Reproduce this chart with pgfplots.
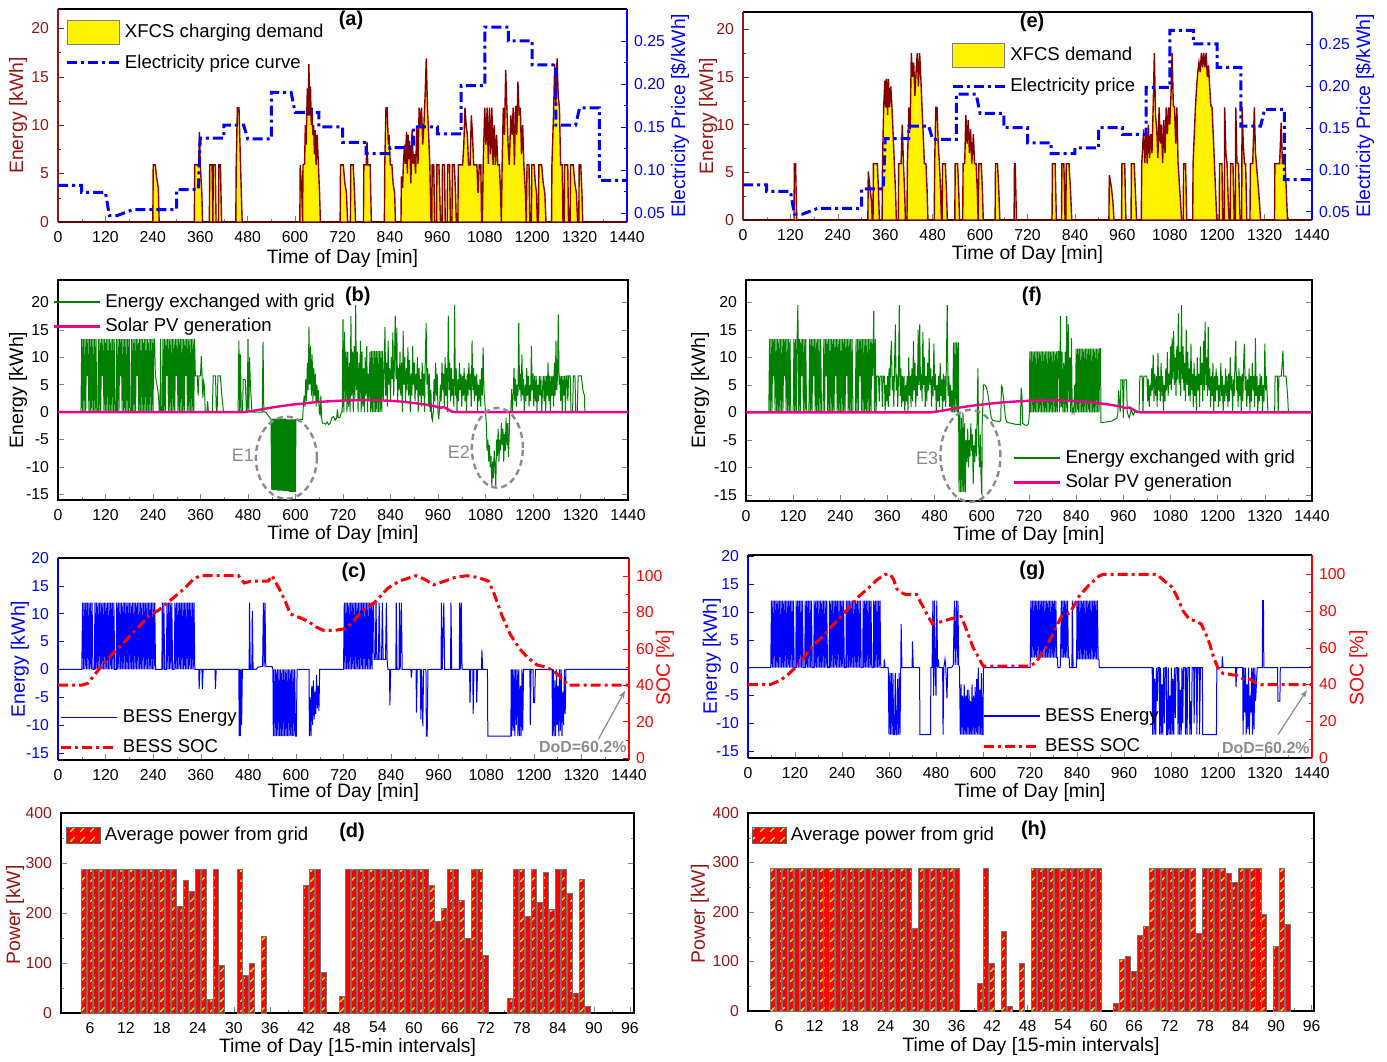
\documentclass[border=0pt]{standalone}
\usepackage{fontspec}
\setmainfont{Liberation Sans}
\setsansfont{Liberation Sans}
\usepackage{pgfplots}
\pgfplotsset{compat=1.18}
\usetikzlibrary{patterns,arrows.meta}
\pgfdeclarepatternformonly{dashdiag}{\pgfpointorigin}{\pgfpoint{5pt}{5pt}}{\pgfpoint{5pt}{5pt}}{
  \pgfsetlinewidth{0.6pt}
  \pgfpathmoveto{\pgfpoint{0pt}{0pt}}
  \pgfpathlineto{\pgfpoint{2.6pt}{2.6pt}}
  \pgfusepath{stroke}
}
\definecolor{dred}{RGB}{155,20,20}
\definecolor{dline}{RGB}{135,0,0}
\definecolor{gline}{RGB}{0,128,0}
\definecolor{ann}{RGB}{140,140,140}
\definecolor{pblue}{RGB}{0,0,255}
\pgfplotsset{
  /pgf/number format/assume math mode=true,
  /pgf/number format/1000 sep={},
  base/.style={
    scale only axis, anchor=south west, clip=false,
    tick align=inside, major tick length=3pt, minor tick length=1.6pt,
    tick label style={font=\fontsize{7.9}{9}\selectfont},
    label style={font=\fontsize{9.7}{11}\selectfont},
    axis line style={line width=0.6pt},
    legend style={draw=none, fill=none, inner sep=0pt, outer sep=0pt, row sep=0pt,
      font=\fontsize{9.3}{11}\selectfont, anchor=north west},
    legend cell align=left,
    xticklabel style={yshift=-1pt},
  },
  timex/.style={xmin=0, xmax=1440, xtick={0,120,...,1440}, minor x tick num=1,
    xlabel={Time of Day [min]}},
  boxlegend/.style={legend image code/.code={\draw[##1] (0pt,-6pt) rectangle (26pt,6pt);}},
  linelegend/.style={legend image code/.code={\draw[##1] (0pt,0pt) -- (#1,0pt);}},
  hatchbox/.style={legend image code/.code={\draw[draw=black!60, fill=red, line width=0.4pt,
     postaction={pattern=dashdiag, pattern color=yellow}]
     (0pt,-4pt) rectangle (17pt,4pt);}},
  pricestyle/.style={pblue, line width=1.5pt, dash pattern=on 5pt off 2pt on 1.5pt off 2pt},
  socstyle/.style={red, line width=1.5pt, dash pattern=on 5pt off 2pt on 1.5pt off 2pt},
  barstyle/.style={ybar, bar width=0.85, fill=red, draw=black!55, line width=0.4pt,
     postaction={pattern=dashdiag, pattern color=yellow}},
}
\begin{document}
\begin{tikzpicture}
\useasboundingbox (0pt,-530.5pt) rectangle (693.5pt,0pt);

% ================= (a) =================
\begin{axis}[base, timex, at={(29pt,-111pt)}, width=284.5pt, height=106.5pt,
  ymin=0, ymax=22, ytick={0,5,10,15,20}, minor y tick num=1,
  separate axis lines, y axis line style={dred}, ytick style={dred}, yticklabel style={dred, xshift=-1pt},
  xtick pos=bottom, ytick pos=left,
  ylabel={Energy [kWh]}, ylabel style={dred, at={(axis description cs:-0.070,0.5)}, anchor=center},
  xlabel style={at={(axis description cs:0.5,-0.169)}, anchor=center}]
\addplot[draw=dline, fill=yellow, line width=0.7pt] coordinates {
(0,0)(240,0)(241,5.9)(246,5.9)(250,4.5)(254,3.5)(256,0)(345,0)(346,5.9)(352,5.9)(356,5.9)(358,9.3)(360,5.9)(364,3)(366,0)(383,0)(384,5.9)(390,5.9)(392,0)(393,5.9)(398,5.9)(400,0)(406,0)(407,5.9)(411,5.9)(414,0)(450,0)(451,5.9)(454,11.8)(458,11.8)(462,5.9)(466,0)
(612,0)(613,5.9)(617,3)(619,0)(620,5.9)(624,6)(626,10)(628,8)(631,13.8)(633,11)(635,16.3)(637,11)(639,14)(641,10)(643,11.8)(645,9)(647,10)(649,7)(651,9.5)(653,5.9)(656,9)(659,5.9)(662,3)(664,0)
(714,0)(715,5.9)(722,5.9)(726,4)(730,3)(733,0)(740,0)(741,5.9)(747,5.9)(750,3.5)(753,0)(773,0)(774,5.9)(780,5.9)(782,8.3)(784,5.9)(790,5.9)(793,0)
(826,0)(827,5.9)(830,11.8)(833,11.8)(836,8)(838,9)(841,5.9)(845,5.9)(848,4)(852,3)(854,0)
(868,0)(869,4.7)(872,3.5)(874,5.9)(877,8)(879,6)(882,9.3)(884,5)(886,9)(888,6.5)(890,8.4)(893,4)(896,9.5)(899,6)(902,7)(905,5)(908,9.7)(911,6)(914,11.8)(917,10)(920,11.8)(923,8)(926,10)(929,13)(932,16.9)(935,11.8)(938,9)(941,5.9)(944,0)
(946,0)(947,5.9)(951,5.9)(953,0)(958,0)(959,5.9)(964,5.9)(966,3)(968,0)(972,0)(973,5.9)(978,5.9)(980,0)(985,0)(986,5.9)(991,5.9)(993,0)(997,0)(998,5.9)(1003,5.9)(1006,3)(1008,0)
(1012,0)(1013,5.9)(1020,5.9)(1024,5.9)(1027,8)(1030,11.8)(1033,10)(1036,9)(1039,5.9)(1043,5.9)(1046,11)(1049,9)(1052,5.9)(1056,5.9)(1060,5.9)(1063,3)(1066,5.9)(1070,5.9)(1072,0)
(1074,0)(1076,5.9)(1080,11.8)(1083,8)(1086,11.8)(1089,6)(1092,11.8)(1095,7)(1098,11.8)(1101,5.9)(1104,10)(1107,5.9)(1110,9)(1113,5.9)(1117,5.9)(1120,3)(1122,0)(1124,5.9)(1127,11.8)(1130,9)(1133,15.7)(1136,11.8)(1139,8)(1142,5.9)(1146,11)(1149,9)(1152,11.8)(1155,5.9)(1158,12)(1161,9)(1164,14.5)(1167,11)(1170,11.8)(1173,7)(1176,10)(1179,5.9)(1183,3)(1185,0)(1187,5.9)(1192,5.9)(1194,0)
(1198,0)(1199,5.9)(1205,5.9)(1208,4)(1211,3)(1213,0)(1216,0)(1217,5.9)(1224,5.9)(1228,4)(1232,3)(1235,0)
(1249,0)(1250,5.9)(1254,11)(1257,16.3)(1260,12)(1263,16.9)(1266,13)(1269,11.8)(1272,5.9)(1276,5.9)(1278,0)
(1281,0)(1282,5.9)(1290,5.9)(1292,0)(1296,0)(1297,5.9)(1304,5.9)(1308,4)(1312,3)(1315,0)(1318,0)(1319,5.9)(1323,5.9)(1326,3)(1328,0)(1440,0)
} \closedcycle;
\end{axis}
\begin{axis}[base, at={(29pt,-111pt)}, width=284.5pt, height=106.5pt, xmin=0, xmax=1440,
  axis x line=none, axis y line*=right,
  ymin=0.0395, ymax=0.287, ytick={0.05,0.10,0.15,0.20,0.25}, minor y tick num=1,
  y axis line style={pblue}, ytick style={pblue},
  yticklabel style={pblue, /pgf/number format/.cd, fixed, fixed zerofill, precision=2},
  ylabel={Electricity Price [\$/kWh]}, ylabel style={pblue, at={(axis description cs:1.093,0.5)}, anchor=center},
  legend style={at={(axis description cs:0.014,0.95)}, anchor=north west, row sep=3pt}]
\addlegendimage{boxlegend, draw=gray, fill=yellow, line width=0.5pt}
\addlegendentry{XFCS charging demand}
\addplot[pricestyle, linelegend=26pt] coordinates {
(0,0.082)(60,0.082)(60,0.074)(120,0.074)(130,0.047)(150,0.047)(190,0.054)(300,0.054)(300,0.077)(355,0.077)(360,0.137)(420,0.137)(420,0.152)(470,0.152)(480,0.136)(540,0.136)(540,0.19)(590,0.19)(600,0.167)(660,0.167)(660,0.15)(720,0.15)(720,0.132)(780,0.132)(780,0.119)(840,0.119)(840,0.126)(900,0.126)(900,0.15)(960,0.15)(960,0.142)(1020,0.142)(1020,0.198)(1080,0.198)(1080,0.266)(1140,0.266)(1140,0.25)(1200,0.25)(1200,0.222)(1260,0.222)(1260,0.152)(1310,0.152)(1320,0.172)(1370,0.172)(1370,0.088)(1440,0.088)};
\addlegendentry{Electricity price curve}
\node[font=\bfseries\fontsize{10}{12}\selectfont] at (axis description cs:0.515,0.948) {(a)};
\end{axis}

% ================= (e) =================
\begin{axis}[base, timex, at={(371.5pt,-110pt)}, width=284.5pt, height=104pt,
  ymin=0, ymax=21.8, ytick={0,5,10,15,20}, minor y tick num=1,
  separate axis lines, y axis line style={dred}, ytick style={dred}, yticklabel style={dred, xshift=-1pt},
  xtick pos=bottom, ytick pos=left,
  ylabel={Energy [kWh]}, ylabel style={dred, at={(axis description cs:-0.0615,0.5)}, anchor=center},
  xlabel style={at={(axis description cs:0.5,-0.168)}, anchor=center}]
\addplot[draw=dline, fill=yellow, line width=0.7pt] coordinates {
(0,0)(129,0)(130,5.9)(133,5.9)(136,0)(316,0)(317,5.1)(321,3.5)(325,2)(327,0)(329,0)(330,5.9)(340,5.9)(343,3)(345,0)
(352,0)(353,5.9)(356,11.8)(359,14.6)(361,11.8)(363,14.8)(366,11)(368,14.8)(371,11.8)(374,14)(377,11.8)(380,9)(383,5.9)(386,3)(388,0)
(393,0)(394,5.9)(400,5.9)(403,10)(406,5.9)(409,3)(411,0)
(415,0)(416,5.9)(420,11.8)(423,9.5)(426,17.5)(429,15)(432,16.5)(435,13)(438,15.5)(441,17.5)(444,14)(447,17.5)(450,15)(453,11.8)(456,9)(459,5.9)(463,5.9)(466,3)(468,0)
(484,0)(485,5.9)(488,11.8)(491,11.8)(494,8)(497,5.9)(500,3)(502,0)(504,0)(505,5.9)(512,5.9)(515,3)(517,0)
(536,0)(537,5.9)(543,5.9)(546,3)(548,0)
(556,0)(557,5.9)(561,5.9)(564,11)(567,8)(570,10.5)(573,7)(576,9.5)(579,5.9)(583,9)(586,5.9)(590,5.9)(593,3)(595,0)(597,5.9)(603,5.9)(606,3)(608,0)
(638,0)(639,5.9)(644,5.9)(647,3.5)(650,0)(686,0)(687,5.9)(689,5.9)(692,0)
(782,0)(783,5.9)(790,5.9)(793,0)(806,0)(807,5.9)(812,5.9)(815,0)(817,0)(818,5.9)(825,5.9)(829,3)(832,0)
(926,0)(927,4.7)(932,3.5)(936,2)(939,0)(958,0)(959,5.9)(966,5.9)(969,0)(982,0)(983,5.9)(990,5.9)(993,3)(996,0)
(1008,0)(1009,5.9)(1014,9.5)(1017,6)(1020,9.5)(1023,5.9)(1026,10)(1029,6.5)(1032,9)(1035,7)(1038,11.8)(1041,17.5)(1044,11)(1047,9.5)(1050,6.5)(1053,11.8)(1056,8)(1059,10)(1062,6)(1065,10.5)(1068,7)(1071,11.8)(1074,9)(1077,11.8)(1080,10)(1083,13)(1086,17.5)(1089,12)(1092,11.8)(1095,8)(1098,11.8)(1101,6)(1104,4)(1107,2)(1110,0)
(1114,0)(1115,5.9)(1120,5.9)(1123,0)
(1138,0)(1139,5.9)(1142,9)(1145,11.8)(1148,14)(1151,15.5)(1154,16.5)(1157,15.5)(1160,17.5)(1163,16)(1166,17.5)(1169,16)(1172,17.5)(1175,15)(1178,16.2)(1181,14)(1184,12)(1187,11.8)(1190,9)(1193,6)(1196,3)(1199,0)
(1205,0)(1206,5.9)(1212,5.9)(1214,0)(1218,0)(1219,11.8)(1222,7)(1225,5.9)(1228,2)(1230,0)(1233,0)(1234,5.9)(1240,5.9)(1243,0)(1246,0)(1247,11.8)(1250,6)(1254,5.9)(1258,0)(1262,0)(1263,11.8)(1266,8)(1269,5.9)(1272,5.9)(1275,0)
(1283,0)(1284,5.9)(1290,5.9)(1294,11.8)(1297,7)(1301,5)(1305,3)(1310,0)
(1345,0)(1346,5.9)(1358,5.9)(1362,10.2)(1365,5.9)(1372,5.9)(1375,3)(1378,0)(1440,0)
} \closedcycle;
\end{axis}
\begin{axis}[base, at={(371.5pt,-110pt)}, width=284.5pt, height=104pt, xmin=0, xmax=1440,
  axis x line=none, axis y line*=right,
  ymin=0.040, ymax=0.288, ytick={0.05,0.10,0.15,0.20,0.25}, minor y tick num=1,
  y axis line style={pblue}, ytick style={pblue},
  yticklabel style={pblue, /pgf/number format/.cd, fixed, fixed zerofill, precision=2},
  ylabel={Electricity Price [\$/kWh]}, ylabel style={pblue, at={(axis description cs:1.093,0.5)}, anchor=center},
  legend style={at={(axis description cs:0.366,0.85)}, anchor=north west, row sep=3pt}]
\addlegendimage{boxlegend, draw=gray, fill=yellow, line width=0.5pt}
\addlegendentry{XFCS demand}
\addplot[pricestyle, linelegend=26pt] coordinates {
(0,0.082)(60,0.082)(60,0.074)(120,0.074)(130,0.047)(150,0.047)(190,0.054)(300,0.054)(300,0.077)(355,0.077)(360,0.137)(420,0.137)(420,0.152)(470,0.152)(480,0.136)(540,0.136)(540,0.19)(590,0.19)(600,0.167)(660,0.167)(660,0.15)(720,0.15)(720,0.132)(780,0.132)(780,0.119)(840,0.119)(840,0.126)(900,0.126)(900,0.15)(960,0.15)(960,0.142)(1020,0.142)(1020,0.198)(1080,0.198)(1080,0.266)(1140,0.266)(1140,0.25)(1200,0.25)(1200,0.222)(1260,0.222)(1260,0.152)(1310,0.152)(1320,0.172)(1370,0.172)(1370,0.088)(1440,0.088)};
\addlegendentry{Electricity price}
\node[font=\bfseries\fontsize{10}{12}\selectfont] at (axis description cs:0.508,0.952) {(e)};
\end{axis}

% ================= (b) =================
\begin{axis}[base, timex, at={(29pt,-250pt)}, width=285pt, height=110pt,
  ymin=-16, ymax=24.05, ytick={-15,-10,...,20}, xtick pos=bottom, ytick pos=both,
  yticklabel style={xshift=-1pt},
  ylabel={Energy [kWh]}, ylabel style={at={(axis description cs:-0.070,0.5)}, anchor=center},
  xlabel style={at={(axis description cs:0.5,-0.155)}, anchor=center},
  legend style={at={(axis description cs:-0.009,0.955)}, anchor=north west}]
\addplot[gline, line width=0.5pt, linelegend=23pt, legend image post style={line width=1.1pt}] coordinates {
(0,0)(58,0)
(60,13.3)(62,0)(64,13.3)(66,0)(68,13.3)(70,0)(72,13.3)(74,6.6)(76,13.3)(78,0)(80,13.3)(82,0)(84,13.3)(86,0)(88,13.3)(90,0)(92,13.3)(94,0)(96,13.3)(98,0)(101,0)(102,13.3)(104,0)(106,13.3)(108,0)(110,13.3)(112,6.6)(114,13.3)(116,0)(118,13.3)(120,0)(122,13.3)(124,0)(126,13.3)(128,0)(130,13.3)(132,0)(134,13.3)(136,0)(138,13.3)(140,0)(142,13.3)(144,0)(147,0)(148,13.3)(150,0)(152,13.3)(154,0)(156,13.3)(158,6.6)(160,13.3)(162,0)(164,13.3)(166,0)(168,13.3)(170,0)(172,13.3)(174,0)(176,13.3)(178,0)(180,13.3)(182,0)(185,0)(186,13.3)(188,0)(190,13.3)(192,0)(194,13.3)(196,0)(198,13.3)(200,6.6)(202,13.3)(204,0)(206,13.3)(208,0)(210,13.3)(212,0)(214,13.3)(216,0)(218,13.3)(220,0)(222,13.3)(224,0)(226,13.3)(228,0)(230,13.3)(232,0)(234,13.3)(236,0)(238,13.3)(240,0)(242,13.3)(244,13.3)(246,6.6)(250,5)(254,3)(256,0)
(258,0)(259,13.3)(261,0)(264,0)(265,13.3)(267,0)(269,13.3)(271,0)(273,13.3)(275,6.6)(277,13.3)(279,0)(281,13.3)(283,0)(285,13.3)(287,0)(289,13.3)(291,0)(293,13.3)(295,0)(297,13.3)(299,6.6)(301,13.3)(303,0)(305,13.3)(307,0)(309,13.3)(311,0)(313,13.3)(315,0)(317,13.3)(319,0)(321,13.3)(323,6.6)(325,13.3)(327,0)(329,13.3)(331,0)(333,13.3)(335,0)(337,13.3)(339,0)(341,13.3)(343,0)(345,13.3)
(347,6.6)(352,6.6)(354,3)(356,6.6)(360,6.6)(362,10.2)(364,6.6)(366,2.6)(368,5.5)(370,4.6)(372,0)(376,0)(378,2)(380,0)(390,0)(392,6.6)(398,6.6)(400,0)(402,0)(404,6.6)(410,6.6)(414,3)(418,0)
(455,0)(457,13)(459,0)(461,10.5)(463,0)(466,0)(468,5.9)(473,5.9)(476,0)(478,0)(480,13.3)(482,0)(484,10)(486,5)(490,0)(516,0)(518,12.8)(520,0)
(525,0)(535,-1)(538,-1.2)(540,-14.1)(541.5,-1.2)(543,-14.2)(544.5,-1.2)(546,-14.2)(547.5,-1.2)(549,-14.2)(550.5,-1.2)(552,-14.2)(553.5,-1.2)(555,-14.3)(556.5,-1.2)(558,-14.3)(559.5,-1.2)(561,-14.3)(562.5,-1.2)(564,-14.3)(565.5,-1.2)(567,-14.3)(568.5,-1.2)(570,-14.4)(571.5,-1.2)(573,-14.4)(574.5,-1.2)(576,-14.4)(577.5,-1.3)(579,-14.4)(580.5,-1.3)(582,-14.4)(583.5,-1.3)(585,-14.5)(586.5,-1.3)(588,-14.5)(589.5,-1.3)(591,-14.5)(592.5,-1.3)(594,-14.5)(595.5,-1.3)(597,-14.5)(598.5,-1.3)(600,-14.5)(601,-1.3)(618,-1.3)(620,1.5)
(622,3)(624,1)(626,6)(628,2)(630,9)(632,4)(634,15.5)(636,5)(638,12)(640,3)(642,10.5)(644,2)(646,8)(648,3)(650,7)(652,1)(654,5)(656,2)(658,4)(660,0)(662,-0.5)(664,3)(666,-1)(668,-2)
(672,-2)(676,-2.2)(680,-1.8)(684,-2.3)(688,-2)(692,-1)(696,-0.8)(700,-1.5)(704,-1)(706,0.5)(708,-1)(712,-1)(716,0)
(718,0)(720,16.9)(722,0)(724,14.6)(726,2)(728,11)(730,0)(732,11)(734,1)(736,9)(738,0)(740,17.5)(742,3)(744,11)(746,0)(748,12)(750,2)(752,19.5)(754,4)(756,11)(758,0)(760,9)(762,2)(764,13)(766,0)(768,11)(770,1)(772,8)(774,0)(776,10)(778,3)(780,12)(782,0)(784,7)(786,2)(788,11)(790,0)(792,11.1)(794,0)(796,11.1)(798,0)(800,11.1)(802,0)(804,11.1)(806,0)(808,11.1)(810,0)(812,11.1)(814,0)(816,11.1)(818,0)(820,11.1)(822,2)(824,7)(826,15.5)(828,3)(830,9)(832,1)(834,13)(836,5)(838,8)(840,2)(842,10)(844,6)(846,14.5)(848,3)(850,9)(852,17.5)(854,6)(856,15.4)(858,2)(860,8)(862,4)(864,11)(866,3)(868,9)(870,0)(872,14.8)(874,5)(876,10)(878,2)(880,8)(882,4)(884,11.8)(886,3)(888,9.5)(890,0)(892,7)(894,3)(896,12)(898,5)(900,9)
(902,2)(904,7)(906,4)(908,10)(910,0)(912,8)(914,3)(916,6)(918,1)(920,9)(922,3)(924,7)(926,0)(928,10)(930,16.2)(932,5)(934,8)(936,1)(938,7)(940,0)(942,4)(944,-1)(946,-1.5)(948,0)(950,6)(952,2)(954,9)(956,3)(958,7)(960,0)(962,-1.3)(964,1)(966,5)(968,2)(970,9)(972,4)(974,7)(976,1)(978,10)(980,3)(982,8)(984,0)(986,17.5)(988,4)(990,9)(992,2)(994,8)(996,3)(998,6)(1000,1)(1002,19.5)(1004,3)(1006,8)(1008,0)
(1010,6)(1012,2)(1014,9)(1016,4)(1018,7)(1020,1)(1022,6.6)(1024,3)(1026,8)(1028,2)(1030,6)(1032,0)(1034,7)(1036,3)(1038,9)(1040,4)(1042,7)(1044,1)(1046,13)(1048,4)(1050,8)(1052,2)(1054,6.6)(1056,3)(1058,7)(1060,0)(1062,5)(1064,2)(1066,6)(1068,1)(1070,8)(1072,3)(1074,11.8)(1076,4)(1078,2)(1080,0)
(1082,-2)(1084,-7)(1086,-5)(1088,-9)(1090,-6)(1092,-10)(1094,-8)(1096,-13.5)(1098,-9)(1100,-12)(1102,-7)(1104,-10)(1106,-13.5)(1108,-5)(1110,-8)(1112,-3)(1114,-9)(1116,-5)(1118,-7)(1120,-2)(1122,-6)(1124,-3)(1126,-9)(1128,-4)(1130,-7)(1132,-1)(1134,-6)(1136,-2)(1138,-8.2)(1140,-4)(1141,0)
(1144,0)(1146,4.2)(1148,0)(1150,3)(1152,8)(1154,2)(1156,6)(1158,1)(1160,5)(1162,3)(1164,16.2)(1166,4)(1168,7)(1170,2)(1172,10.5)(1174,3)(1176,6)(1178,0)(1180,5)(1182,2)(1184,8)(1186,3)(1188,6.6)(1190,1)(1192,5)(1194,2)(1196,12)(1198,4)(1200,7)(1202,1)
(1204,6.6)(1206,2)(1208,6.6)(1210,0)(1212,5)(1214,2)(1216,6.6)(1218,3)(1220,6.6)(1222,0)(1224,4)(1226,6.6)(1228,2)(1230,6.6)(1232,0)(1234,6.6)(1236,3)(1238,9)(1240,2)(1242,6.6)(1244,0)(1246,6.6)(1248,3)(1250,6.6)(1252,1)(1254,9)(1256,3)(1258,13)(1260,4)(1262,6.6)(1264,17.8)(1266,5)(1268,6.6)(1270,2)(1272,6.6)(1274,0)(1276,6.6)(1278,3)(1280,6.6)(1282,0)(1284,6.6)(1286,6.6)(1288,2)(1290,6.6)(1294,6.6)(1296,0)(1300,0)(1302,6.6)(1306,6.6)(1308,0)(1312,0)(1314,6.6)(1322,6.6)(1326,4)(1330,3)(1331,0)(1440,0)};
\addlegendentry{Energy exchanged with grid}
\addplot[magenta, line width=1.2pt, linelegend=23pt] coordinates {
(0,0)(470,0)(490,0.2)(510,0.45)(530,0.7)(550,0.95)(570,1.15)(590,1.35)(610,1.5)(630,1.65)(650,1.8)(670,1.9)(690,2.0)(720,2.1)(750,2.15)(780,2.2)(810,2.15)(840,2.05)(870,1.9)(900,1.65)(930,1.35)(950,1.1)(965,0.8)(975,0.9)(985,0.5)(995,0.1)(1005,0)(1440,0)};
\addlegendentry{Solar PV generation}
\draw[ann, line width=1.2pt, dash pattern=on 3pt off 2pt] (axis cs:577,-8.3) ellipse [x radius=15.25pt, y radius=20.5pt];
\draw[ann, line width=1.2pt, dash pattern=on 3pt off 2pt] (axis cs:1110,-6.5) ellipse [x radius=12.75pt, y radius=20pt];
\node[ann, font=\fontsize{9}{10}\selectfont] at (axis cs:467,-7.8) {E1};
\node[ann, font=\fontsize{9}{10}\selectfont] at (axis cs:1013,-7.3) {E2};
\node[font=\bfseries\fontsize{10}{12}\selectfont] at (axis description cs:0.526,0.927) {(b)};
\end{axis}

% ================= (f) =================
\begin{axis}[base, timex, at={(373pt,-250.5pt)}, width=283pt, height=110.5pt,
  ymin=-16.1, ymax=24.05, ytick={-15,-10,...,20}, xtick pos=bottom, ytick pos=both,
  yticklabel style={xshift=-1pt},
  ylabel={Energy [kWh]}, ylabel style={at={(axis description cs:-0.081,0.5)}, anchor=center},
  xlabel style={at={(axis description cs:0.5,-0.158)}, anchor=center},
  legend style={at={(axis description cs:0.472,0.25)}, anchor=north west}]
\addplot[gline, line width=0.5pt, linelegend=23pt, legend image post style={line width=1.1pt}] coordinates {
(0,0)(58,0)
(60,13.3)(62,0)(64,13.3)(66,0)(68,13.3)(70,6.6)(72,13.3)(74,0)(76,13.3)(78,0)(80,13.3)(82,0)(84,13.3)(86,0)(88,13.3)(90,0)(92,13.3)(94,0)(96,13.3)(98,6.6)(100,13.3)(102,0)(104,13.3)(106,0)(108,13.3)(110,0)(112,13.3)(114,0)(120,0)(122,13.3)(124,0)(126,13.3)(128,0)(130,13.3)(132,19.5)(134,0)(136,13.3)(138,0)(140,13.3)(142,6.6)(144,13.3)(146,0)(148,13.3)(150,0)(152,13.3)(154,0)(160,0)(162,13.3)(164,0)(166,13.3)(168,0)(170,13.3)(172,6.6)(174,13.3)(176,0)(178,13.3)(180,0)(182,13.3)(184,0)(186,13.3)(188,0)(190,13.3)(192,0)(196,0)(198,13.3)(200,0)(202,13.3)(204,6.6)(206,13.3)(208,0)(210,13.3)(212,0)(214,13.3)(216,0)(218,13.3)(220,0)(222,13.3)(224,0)(226,13.3)(228,6.6)(230,13.3)(232,0)(234,13.3)(236,0)(238,13.3)(240,0)(242,13.3)(244,0)(246,13.3)(248,0)(250,13.3)(252,0)(254,13.3)(256,6.6)(258,13.3)(260,0)(262,13.3)(264,0)(266,13.3)(268,0)(270,13.3)(272,0)(278,0)(280,13.3)(282,0)(284,13.3)(286,0)(288,13.3)(290,6.6)(292,13.3)(294,0)(296,13.3)(298,0)(300,13.3)(302,0)(304,13.3)(306,0)(308,13.3)(310,0)(312,13.3)(314,0)(316,13.3)(318,0)(320,13.3)(322,6.6)(324,13.3)(325,18.4)(327,0)(329,13.3)(331,0)
(333,6.6)(337,6.6)(339,2)(341,6.6)(345,6.6)(347,1)(349,6.6)(352,6.6)(354,0)(356,5)(358,2)(360,6.6)(362,1)(364,8)(366,3)(368,10)(370,13)(372,4)(374,6.6)(376,1)(378,9)(380,16)(382,4)(384,7)(386,1)(388,6.6)(390,19.5)(392,3)(394,8)(396,1)(398,6.6)(400,2)(402,6.6)(404,0)(406,5)(408,2)(410,6.6)(412,0)(414,10)(416,3)(418,6.6)(420,1)(422,8)(424,2)(426,13)(428,4)(430,9)(432,1)(434,6.6)(436,3)(438,15)(440,5)(442,16)(444,4)(446,7)(448,2)(450,14.6)(452,5)(454,10)
(456,1)(458,6.6)(460,2)(462,9)(464,4)(466,13.5)(468,5)(470,8)(472,1)(474,6.6)(476,3)(478,12.5)(480,4)(482,7)(484,0)(486,5)(488,2)(490,6.6)(492,1)(494,9)(496,3)(498,6)(500,0)(502,7)(504,2)(506,6.6)(508,1)(510,10)(512,19.5)(514,3)(516,6.6)(518,1)(520,5)(522,0)(524,4)(526,0)(528,12.7)(530,0)(532,12.7)(534,0)(536,12.7)(538,0)(540,12.7)(541,0)
(542,-14.5)(544,0)(546,-14.5)(548,-1)(550,-14.5)(552,0)(554,-14.5)(556,-2)(558,-14.5)(560,-5)(562,-9)(564,-3)(566,-10)(568,-5)(570,-8)(572,-2)(574,-7)(576,-4)(578,-13)(580,-6)(582,-9)(584,-3)(586,-8)(588,-1)(590,8)(592,-6)(594,-10)(596,-4)(598,-12)(600,-15)(601,-2)(602,0)
(604,5)(608,5)(612,4.5)(616,3)(620,1)(624,-1)(628,-1.5)(632,-1.5)(636,-1.6)(640,-1.6)(644,-1.7)(648,-1.5)(650,4.8)(652,4.5)(656,2)(660,-1)(664,-1.8)(670,-1.9)(676,-2)(682,-2.1)(688,-2.2)(694,-2.2)(698,-2.3)(700,4.5)(702,3)(704,-2)(710,-2.3)(716,-2.3)(719,-2)(721,0)
(722,11.1)(724,0)(726,11.1)(728,0)(730,11.1)(732,0)(734,11.1)(736,0)(738,11.1)(740,0)(742,11.1)(744,0)(746,11.1)(748,0)(750,11.1)(752,0)(754,11.1)(756,0)(758,11.1)(760,0)(762,11.1)(764,0)(766,11.1)(768,0)(770,11.1)(772,0)(774,11.1)(776,0)(778,11.1)(780,0)(782,11.1)(784,0)(786,11.1)(788,0)(790,11.1)(792,0)(794,11.1)
(796,11.1)(798,0)(800,17.5)(802,1)(804,11)(806,0)(808,9)(810,0)(812,11)(814,0)(816,17.5)(818,0)(820,16)(822,2)(824,10)(826,0)(828,13.5)(830,0)(832,0.5)(834,0)(836,5)(838,0)
(840,11.6)(842,0)(844,11.6)(846,0)(848,11.6)(850,0)(852,11.6)(854,0)(856,11.6)(858,0)(860,11.6)(862,0)(864,11.6)(866,0)(868,11.6)(870,0)(872,11.6)(874,0)(876,11.6)(878,0)(880,11.6)(882,0)(884,11.6)(886,0)(888,11.6)(890,0)(892,11.6)(894,0)(896,11.6)(898,0)(900,11.6)(902,11.6)(903,-1.8)
(910,-1.8)(920,-1.7)(930,-1.6)(940,-1.2)(944,-1)(946,0)(948,4)(950,2)(952,0)(954,5.9)(958,5.9)(960,-1)(962,5.9)(968,5.9)(970,0)(975,-1)(980,0.5)(985,-0.5)(990,0.3)(993,0)
(1000,0)(1002,6.6)(1008,6.6)(1010,0)(1012,6.6)(1020,6.6)(1022,2)(1024,6)(1026,1)(1028,5)(1030,3)(1032,8)(1034,4)(1036,10.5)(1038,2)(1040,7)(1042,3)(1044,6.6)(1046,1)(1048,10.8)(1050,4)(1052,6.6)(1054,2)(1056,9)(1058,3)(1060,6.6)(1062,0)(1064,5)(1066,2)(1068,8)(1070,4)(1072,11)(1074,3)(1076,7)(1078,5)(1080,12)(1082,4)(1084,13.5)(1086,6)(1088,14.8)(1090,5)(1092,10)(1094,3)(1096,12)(1098,6)(1100,18)(1102,5)(1104,11)(1106,3)(1108,19.5)(1110,6)(1112,12)(1114,4)(1116,9)(1118,2)(1120,15)(1122,5)(1124,11)(1126,3)(1128,8)(1130,2)(1132,12.5)(1134,4)(1136,7)(1138,1)(1140,9)(1142,3)(1144,6.6)(1146,0)(1148,10)(1150,4)(1152,7)(1154,1)(1156,12)(1158,5)(1160,9)(1162,2)(1164,13)(1166,4)(1168,16.5)(1170,5)(1172,10)(1174,3)(1176,15.5)(1178,4)(1180,8)(1182,1)(1184,6.6)(1186,3)(1188,9)(1190,0)(1192,6.6)(1194,2)(1196,8)(1198,4)(1200,6.6)(1202,1)(1204,5)(1206,2)(1208,9)(1210,3)(1212,6.6)(1214,0)(1216,5)(1218,2)(1220,8)(1222,3)(1224,6.6)(1226,1)(1228,7)(1230,2)(1232,10)(1234,4)(1236,6.6)(1238,0)(1240,6)(1242,3)(1244,9)(1246,13)(1248,4)(1250,6.6)(1252,1)(1254,8)(1256,3)(1258,6.6)(1260,0)(1262,7)(1264,2)(1266,9)(1268,12.5)(1270,4)(1272,6.6)(1274,1)(1276,6)(1278,3)(1280,8)(1282,0)(1284,6.6)(1286,2)(1288,9)(1290,4)(1292,6.6)(1294,1)(1296,13.5)(1298,3)(1300,6.6)(1302,0)(1304,5)(1306,2)(1308,7)(1310,3)(1312,6.6)(1314,0)(1316,5)(1318,2)(1320,12.5)(1322,4)(1324,6.6)(1326,3)(1328,0)
(1345,0)(1346,6.6)(1352,6.6)(1354,0)(1356,6.6)(1362,6.6)(1366,11.2)(1368,6.6)(1374,6.6)(1378,3)(1380,0)(1440,0)};
\addlegendentry{Energy exchanged with grid}
\addplot[magenta, line width=1.2pt, linelegend=23pt] coordinates {
(0,0)(470,0)(490,0.2)(510,0.45)(530,0.7)(550,0.95)(570,1.15)(590,1.35)(610,1.5)(630,1.65)(650,1.8)(670,1.9)(690,2.0)(720,2.1)(750,2.15)(780,2.2)(810,2.15)(840,2.05)(870,1.9)(900,1.65)(930,1.35)(950,1.1)(965,0.8)(975,0.9)(985,0.5)(995,0.1)(1005,0)(1440,0)};
\addlegendentry{Solar PV generation}
\draw[ann, line width=1.2pt, dash pattern=on 3pt off 2pt] (axis cs:571,-7.9) ellipse [x radius=15pt, y radius=23pt];
\node[ann, font=\fontsize{9}{10}\selectfont] at (axis cs:461,-8.3) {E3};
\node[font=\bfseries\fontsize{10}{12}\selectfont] at (axis description cs:0.505,0.928) {(f)};
\end{axis}

% ================= (c) =================
\begin{axis}[base, timex, at={(29pt,-380pt)}, width=285.5pt, height=101pt,
  ymin=-16.3, ymax=20, ytick={-15,-10,...,20},
  separate axis lines, y axis line style={pblue}, ytick style={pblue}, yticklabel style={pblue, xshift=-1pt},
  xtick pos=bottom, ytick pos=left,
  ylabel={Energy [kWh]}, ylabel style={pblue, at={(axis description cs:-0.0666,0.5)}, anchor=center},
  xlabel style={at={(axis description cs:0.5,-0.163)}, anchor=center}]
\addplot[pblue, line width=0.5pt] coordinates {
(0,0)(60,0)
(62,12)(64,0)(66,12)(68,0)(70,12)(72,0)(74,12)(76,0)(78,12)(80,0)(82,12)(84,0)(86,12)(88,0)(92,0)(93,12)(95,0)(97,12)(99,0)(101,12)(103,0)(105,12)(107,0)(109,12)(111,0)(113,12)(115,0)(117,12)(119,0)(121,12)(123,0)(125,12)(127,0)(129,12)(131,0)(133,12)(135,0)(137,12)(139,0)(141,12)(143,0)(147,0)(148,12)(150,0)(152,12)(154,0)(156,12)(158,0)(160,12)(162,0)(164,12)(166,0)(168,12)(170,0)(172,12)(174,0)(176,12)(178,0)(180,12)(182,0)(184,12)(186,0)(188,12)(190,0)(192,12)(194,0)(196,12)(198,0)(200,12)(202,0)(204,12)(206,0)(208,12)(210,0)(212,12)(214,0)(216,12)(218,0)(220,12)(222,0)(224,12)(226,0)(228,12)(230,0)(232,12)(234,0)(236,12)(238,0)(240,12)(242,0)(244,12)(246,0)
(262,0)(263,12)(265,0)(267,12)(269,0)(273,0)(275,12)(277,0)(279,12)(281,0)(283,12)(285,0)(287,12)(289,0)(293,0)(295,12)(297,0)(299,12)(301,0)(303,12)(305,0)(307,12)(309,0)(311,12)(313,0)(315,12)(317,0)(319,12)(321,0)(323,12)(325,0)(327,12)(329,0)(331,12)(333,0)(335,12)(337,0)(339,12)(341,0)(343,12)(345,0)
(355,0)(356,-3.5)(358,0)(363,0)(364,-3.5)(366,0)(396,0)(397,-3.5)(399,0)(456,0)(457,-12)(459,0)(460,-12)(462,0)(463,-10)(465,0)(482,0)(483,12)(485,0)(489,0)(490,10.5)(492,0)(500,0)(504,0.4)(516,0.5)(518,12)(520,0.5)(522,12)(524,0.5)(540,0.5)(542,0)
(543,-12)(545,0)(547,-12)(549,0)(551,-12)(553,0)(555,-12)(557,0)(559,-12)(561,0)(563,-12)(565,0)(567,-12)(569,0)(571,-12)(573,0)(575,-12)(577,0)(579,-12)(581,0)(583,-12)(585,0)(587,-12)(589,0)(591,-12)(593,0)(595,-12)(597,0)(599,-12)(601,-12)(603,0)
(633,0)(634,-12)(636,-5)(638,-12)(640,-3)(642,-10)(644,-2)(646,-9)(648,-4)(650,-8)(652,-1)(654,-7)(656,-3)(658,-7.5)(660,0)(720,0)
(722,12)(724,0)(726,12)(728,0)(730,12)(732,0)(734,12)(736,0)(738,12)(740,0)(742,12)(744,0)(746,12)(748,0)(750,12)(752,0)(754,12)(756,0)(758,12)(760,0)(762,12)(764,0)(766,12)(768,0)(770,12)(772,0)(774,12)(776,0)(778,12)(780,0)(782,12)(784,0)(786,12)(788,0)(790,12)(792,0)(794,12)(796,12)(797,1.8)
(800,1.8)(802,12)(804,1.8)(808,1.8)(810,12)(812,1.8)(816,1.8)(818,12)(820,1.8)(826,1.8)(828,12)(830,1.8)(832,0)
(836,0)(837,-6.5)(839,0)(852,0)(853,12)(855,0)(860,0)(861,12)(863,0)(866,12)(868,0)(890,0)(891,-1.5)(893,0)(903,0)(904,-7.8)(906,0)(914,0)(915,-9)(917,0)(920,-10.2)(922,0)(928,0)(929,-12)(931,-12)(933,0)
(966,0)(967,12)(969,0)(973,12)(975,0)(990,0)(991,12)(993,0)(1012,0)(1013,12)(1015,0)(1017,12)(1019,0)
(1038,0)(1039,-6)(1041,0)(1046,0)(1047,-8)(1049,0)(1055,0)(1056,-6)(1058,0)(1068,0)(1069,3.5)(1071,0)
(1083,0)(1084,-12)(1142,-12)(1143,0)(1144,-12)(1146,0)(1148,-11)(1150,0)(1152,-12)(1154,0)(1156,-10)(1158,0)(1160,-12)(1162,0)(1164,-12)(1166,-3)(1168,-12)(1170,0)(1172,-11)(1174,0)(1190,0)(1191,-10)(1193,0)(1198,0)(1199,-6)(1202,-6)(1204,0)
(1246,0)(1247,-12)(1249,0)(1251,-12)(1253,-2)(1255,-12)(1257,0)(1259,-10)(1261,-3)(1263,-12)(1265,0)(1267,-11)(1269,0)(1271,-12)(1273,-4)(1275,-10)(1277,0)(1279,-8)(1281,0)(1440,0)};
\end{axis}
\begin{axis}[base, at={(29pt,-380pt)}, width=285.5pt, height=101pt, xmin=0, xmax=1440,
  axis x line=none, axis y line*=right,
  ymin=-1, ymax=109.7, ytick={0,20,...,100}, minor y tick num=1,
  y axis line style={red}, ytick style={red}, yticklabel style={red},
  ylabel={SOC [\%]}, ylabel style={red, at={(axis description cs:1.063,0.455)}, anchor=center},
  legend style={at={(axis description cs:0.0035,0.27)}, anchor=north west, row sep=3pt}]
\addlegendimage{pblue, line width=0.8pt, linelegend=28pt}
\addlegendentry{BESS Energy}
\addplot[socstyle, linelegend=28pt] coordinates {
(0,40)(60,40)(75,41)(97,47)(120,53)(141,58)(165,63)(186,68)(208,73)(230,78)(253,81)(275,85)(297,89)(319,93)(341,98)(358,100)(455,100)(470,96)(486,97)(530,97)(540,100)(560,92)(575,85)(586,79)(610,77)(631,75)(650,72)(670,70)(697,70)(725,71)(745,75)(764,80)(797,85)(831,93)(860,97)(903,100)(925,98)(947,95)(975,97)(1000,99)(1031,100)(1060,99)(1086,97)(1100,90)(1120,78)(1140,68)(1164,60)(1185,55)(1209,51)(1230,50)(1248,48)(1265,45)(1287,40)(1440,40)};
\addlegendentry{BESS SOC}
\draw[ann, line width=0.6pt, -{Stealth[length=4pt]}] (axis cs:1363,10.5) -- (axis cs:1430,37);
\node[ann, anchor=east, font=\bfseries\fontsize{8}{9}\selectfont, inner sep=0pt] at (axis description cs:0.9965,0.064) {DoD=60.2\%};
\node[font=\bfseries\fontsize{10}{12}\selectfont] at (axis description cs:0.518,0.931) {(c)};
\end{axis}

% ================= (g) =================
\begin{axis}[base, timex, at={(374pt,-379pt)}, width=282pt, height=101.5pt,
  ymin=-16.2, ymax=20.2, ytick={-15,-10,...,20},
  separate axis lines, y axis line style={pblue}, ytick style={pblue}, yticklabel style={pblue, xshift=-1pt},
  xtick pos=bottom, ytick pos=left,
  ylabel={Energy [kWh]}, ylabel style={pblue, at={(axis description cs:-0.064,0.5)}, anchor=center},
  xlabel style={at={(axis description cs:0.5,-0.172)}, anchor=center}]
\addplot[pblue, line width=0.5pt] coordinates {
(0,0)(58,0)
(60,12)(62,0)(64,12)(66,0)(68,12)(70,0)(72,12)(74,0)(76,12)(78,0)(80,12)(82,0)(84,12)(86,0)(88,12)(90,0)(92,12)(94,0)(96,12)(98,0)(100,12)(102,0)(104,12)(106,0)(108,12)(110,0)(112,12)(114,0)(116,12)(118,0)(122,0)(123,12)(125,0)(127,12)(129,0)(131,12)(133,0)(135,12)(137,0)(139,12)(141,0)(145,0)(146,12)(148,0)(150,12)(152,0)(154,12)(156,0)(158,12)(160,0)(162,12)(164,0)(168,0)(169,12)(171,0)(173,12)(175,0)(177,12)(179,0)(181,12)(183,0)(185,12)(187,0)(189,12)(191,0)(193,12)(195,0)(197,12)(199,0)(201,12)(203,0)(207,0)(208,12)(210,0)(212,12)(214,0)(216,12)(218,0)(220,12)(222,0)(224,12)(226,0)(228,12)(230,0)(232,12)(234,0)(236,12)(238,0)(240,12)(242,0)(244,12)(246,0)(250,0)(251,12)(253,0)(255,12)(257,0)(259,12)(261,0)(263,12)(265,0)(267,12)(269,0)(271,12)(273,0)(275,12)(277,0)(279,12)(281,0)(283,12)(285,0)(287,12)(289,0)(293,0)(294,12)(296,0)(298,12)(300,0)(302,12)(304,0)(306,12)(308,0)(310,12)(312,0)(314,12)(316,0)(320,0)(321,12)(323,0)(325,12)(327,0)(329,12)(331,0)(333,12)(335,0)(337,12)(339,0)
(347,0)(348,1.5)(350,0)(358,0)(360,-12)(362,-1)(364,-12)(366,-1)(368,-12)(370,-1)(372,-12)(374,-12)(376,-1)(378,-12)(380,-12)(382,-2)(384,-12)(386,-1)(388,-12)(390,0)(391,7.8)(393,0)(419,0)(420,4.7)(422,0)
(438,0)(439,-12)(466,-12)(467,0)(470,0)(472,12)(474,-5)(476,12)(478,0)(480,-5)(482,12)(484,0)(486,1.5)(488,0)(497,0)(498,-12)(500,0)(503,1.5)(505,0)(508,-5.5)(510,0)(520,0)(524,0.5)(527,12)(529,0.5)(532,12)(534,0.5)(536,12)(538,0.5)(540,0)
(542,-12)(544,-3)(546,-12)(548,-5)(550,-12)(552,-3)(554,-12)(556,-5)(558,-12)(560,-4)(562,-12)(564,-4)(566,-12)(568,-6)(570,-12)(572,-3)(574,-12)(576,-5)(578,-12)(580,-3.5)(582,-12)(584,-2)(586,-12)(588,0)(590,-12)(592,-4)(594,-12)(596,-1)(598,-12)(600,-12)(601,0)(720,0)
(721,1.8)(722,12)(724,1.8)(726,12)(728,1.8)(730,12)(732,1.8)(734,12)(736,1.8)(738,12)(740,1.8)(742,12)(744,1.8)(746,12)(748,1.8)(750,12)(752,1.8)(754,12)(756,1.8)(758,12)(760,1.8)(762,12)(764,1.8)(766,12)(768,1.8)(770,12)(772,1.8)(774,12)(776,1.8)(778,12)(780,1.8)(782,12)(784,1.8)(786,12)(788,1.8)(790,1.8)(791,0)(797,0)(798,1.8)(800,12)(802,1.8)(804,12)(806,1.8)(808,12)(810,1.8)(812,12)(814,1.8)(816,12)(818,1.8)(820,1.8)(821,0)(827,0)(828,12)(830,0)(838,0)(839,1.5)(840,12)(842,1.5)(844,12)(846,1.5)(848,12)(850,1.5)(852,12)(854,1.5)(856,12)(858,1.5)(860,12)(862,1.5)(864,12)(866,1.5)(868,12)(870,1.5)(872,12)(874,1.5)(876,12)(878,1.5)(880,12)(882,1.5)(884,12)(886,1.5)(888,12)(890,1.5)(892,12)(894,1.5)(896,1.5)(897,0)
(1032,0)(1033,-12)(1035,0)(1037,-12)(1039,-2)(1041,-12)(1043,0)(1045,-6)(1047,0)(1050,0)(1051,-12)(1053,0)(1055,-12)(1057,-3)(1059,-12)(1061,0)(1063,-10)(1065,0)(1068,0)(1069,-12)(1071,-12)(1073,0)(1075,-12)(1077,-5)(1079,-12)(1081,0)(1083,-12)(1085,-2)(1087,-12)(1089,0)(1091,-9)(1093,0)(1097,0)(1098,-12)(1100,0)(1102,-12)(1104,-4)(1106,-12)(1108,0)(1110,-10)(1112,0)(1116,0)(1117,-12)(1119,0)(1121,-12)(1123,0)(1127,0)(1128,-12)(1130,-6)(1132,-12)(1134,0)(1138,0)(1139,-10)(1141,0)(1145,0)(1146,-12)(1148,0)(1152,0)(1153,-12)(1155,0)(1160,0)(1161,-12)(1196,-12)(1197,0)
(1210,0)(1211,2)(1213,0)(1245,0)(1246,-3.5)(1248,0)
(1263,0)(1264,-12)(1266,0)(1268,-8)(1270,0)(1272,-12)(1274,-3)(1276,-11)(1278,0)(1280,-12)(1282,-5)(1284,-8)(1286,0)(1288,-12)(1290,0)(1292,-11)(1294,0)(1296,-6)(1300,0)
(1313,0)(1314,12)(1316,12)(1317,0)(1352,0)(1353,-6)(1358,-6)(1359,0)(1440,0)};
\end{axis}
\begin{axis}[base, at={(374pt,-379pt)}, width=282pt, height=101.5pt, xmin=0, xmax=1440,
  axis x line=none, axis y line*=right,
  ymin=0, ymax=110.5, ytick={0,20,...,100}, minor y tick num=1,
  y axis line style={red}, ytick style={red}, yticklabel style={red},
  ylabel={SOC [\%]}, ylabel style={red, at={(axis description cs:1.082,0.443)}, anchor=center},
  legend style={at={(axis description cs:0.415,0.265)}, anchor=north west, row sep=3pt}]
\addlegendimage{pblue, line width=0.8pt, linelegend=28pt}
\addlegendentry{BESS Energy}
\addplot[socstyle, linelegend=28pt] coordinates {
(0,40)(57,40)(80,42)(100,45)(125,50)(150,57)(170,62)(195,67)(215,72)(250,80)(283,88)(310,93)(329,97)(351,100)(363,100)(372,97)(380,92)(392,90)(403,89)(431,89)(440,85)(448,82)(460,77)(471,73)(490,74)(522,76)(544,77)(552,73)(561,68)(575,60)(588,55)(595,52)(601,50)(720,50)(735,52)(760,60)(780,68)(800,77)(822,79)(835,84)(845,88)(870,94)(896,99)(907,100)(1040,100)(1049,99)(1065,96)(1083,93)(1097,87)(1111,80)(1125,76)(1157,73)(1170,67)(1179,62)(1190,54)(1202,48)(1213,46)(1247,45)(1265,43)(1281,43)(1295,41)(1310,40)(1440,40)};
\addlegendentry{BESS SOC}
\draw[ann, line width=0.6pt, -{Stealth[length=4pt]}] (axis cs:1353,12.7) -- (axis cs:1427,37);
\node[ann, anchor=east, font=\bfseries\fontsize{8}{9}\selectfont, inner sep=0pt] at (axis description cs:0.9965,0.049) {DoD=60.2\%};
\node[font=\bfseries\fontsize{10}{12}\selectfont] at (axis description cs:0.504,0.926) {(g)};
\end{axis}

% ================= (d) =================
\begin{axis}[base, at={(30.5pt,-506.5pt)}, width=286.5pt, height=100pt,
  xmin=1.17, xmax=96.67, ymin=0, ymax=400, xtick={6,12,...,96}, minor x tick num=1,
  ytick={0,100,...,400}, minor y tick num=1, xtick pos=bottom, ytick pos=both,
  yticklabel style={dred, xshift=-1pt},
  ylabel={Power [kW]}, ylabel style={dred, at={(axis description cs:-0.080,0.49)}, anchor=center},
  xlabel={Time of Day [15-min intervals]}, xlabel style={at={(axis description cs:0.5,-0.17)}, anchor=center},
  legend style={at={(axis description cs:0.009,0.95)}, anchor=north west}]
\addlegendimage{hatchbox}
\addlegendentry{Average power from grid}
\addplot[barstyle, forget plot] coordinates {
(5,288)(6,288)(7,288)(8,288)(9,288)(10,288)(11,288)(12,288)(13,288)(14,288)(15,288)(16,288)(17,288)(18,288)(19,288)(20,288)(21,213)(22,265)(23,244)(24,288)(25,288)(26,27)(27,288)(28,95)(31,288)(32,75)(33,100)(35,153)(42,255)(43,288)(44,288)(45,82)(48,34)(49,288)(50,288)(51,288)(52,288)(53,288)(54,288)(55,288)(56,288)(57,288)(58,288)(59,288)(60,288)(61,288)(62,288)(63,255)(64,183)(65,209)(66,288)(67,288)(68,226)(69,150)(70,288)(71,288)(72,115)(76,29)(77,288)(78,288)(79,194)(80,288)(81,221)(82,282)(83,208)(84,288)(85,288)(86,240)(87,40)(88,267)(89,14)};
\node[font=\bfseries\fontsize{10}{12}\selectfont] at (axis description cs:0.508,0.905) {(d)};
\end{axis}

% ================= (h) =================
\begin{axis}[base, at={(374pt,-505.5pt)}, width=283pt, height=99pt,
  xmin=0.75, xmax=96.4, ymin=0, ymax=400, xtick={6,12,...,96}, minor x tick num=1,
  ytick={0,100,...,400}, minor y tick num=1, xtick pos=bottom, ytick pos=both,
  yticklabel style={dred, xshift=-1pt},
  ylabel={Power [kW]}, ylabel style={dred, at={(axis description cs:-0.085,0.49)}, anchor=center},
  xlabel={Time of Day [15-min intervals]}, xlabel style={at={(axis description cs:0.5,-0.18)}, anchor=center},
  legend style={at={(axis description cs:0.007,0.949)}, anchor=north west}]
\addlegendimage{hatchbox}
\addlegendentry{Average power from grid}
\addplot[barstyle, forget plot] coordinates {
(5,288)(6,288)(7,288)(8,288)(9,288)(10,288)(11,288)(12,288)(13,288)(14,288)(15,288)(16,288)(17,288)(18,288)(19,288)(20,288)(21,288)(22,288)(23,288)(24,288)(25,288)(26,288)(27,288)(28,288)(29,167)(30,288)(31,288)(32,288)(33,288)(34,288)(35,288)(36,288)(40,56)(41,288)(42,96)(44,161)(45,9)(47,96)(49,288)(50,288)(51,288)(52,288)(53,288)(54,288)(55,288)(56,288)(57,288)(58,288)(59,288)(60,288)(63,16)(64,105)(65,111)(66,80)(67,153)(68,170)(69,288)(70,288)(71,288)(72,288)(73,288)(74,288)(75,288)(76,288)(77,157)(78,288)(79,288)(80,288)(81,288)(82,278)(83,260)(84,288)(85,288)(86,288)(87,288)(88,195)(90,130)(91,288)(92,175)};
\node[font=\bfseries\fontsize{10}{12}\selectfont] at (axis description cs:0.505,0.914) {(h)};
\end{axis}
\end{tikzpicture}
\end{document}
